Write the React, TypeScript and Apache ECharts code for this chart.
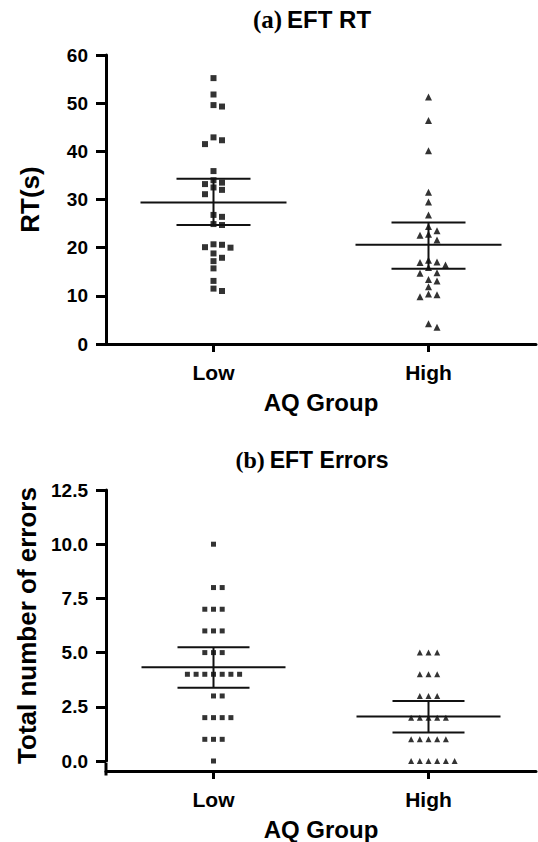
import React, { useEffect, useRef } from "react";
import * as echarts from "echarts";

// ---- data ----
const groups = ["Low", "High"];

const rtLow = [55.2, 51.8, 49.6, 49.3, 42.9, 42.3, 41.5, 35.9, 34.0, 33.5, 33.2, 32.5, 32.0, 31.1, 26.8, 26.4, 24.9, 24.7, 20.7, 20.6, 20.1, 20.0, 18.8, 17.9, 17.2, 15.7, 13.1, 11.5, 11.0];
const rtHigh = [51.3, 46.4, 40.1, 31.5, 29.5, 26.8, 24.4, 23.5, 22.8, 22.6, 21.6, 17.4, 17.0, 16.9, 16.4, 15.9, 14.8, 14.7, 13.4, 13.1, 11.9, 10.4, 10.2, 9.8, 4.2, 3.5];
const rtMean = [29.4, 20.6];
const rtLower = [24.7, 15.6];
const rtUpper = [34.3, 25.2];

const errLow = [10, 8, 8, 7, 7, 7, 6, 6, 6, 5, 5, 5, 4, 4, 4, 4, 4, 4, 4, 3, 3, 2, 2, 2, 2, 1, 1, 1, 0];
const errHigh = [5, 5, 5, 4, 4, 4, 3, 3, 3, 2, 2, 2, 2, 2, 1, 1, 1, 1, 1, 0, 0, 0, 0, 0, 0];
const errMean = [4.32, 2.05];
const errLower = [3.38, 1.32];
const errUpper = [5.25, 2.77];

// ---- layout helpers ----
const FONT = "'Liberation Sans', Arial, sans-serif";
const SERIF = "'Liberation Serif', 'Times New Roman', serif";

function swarm(values: number[], pxPerUnit: number, minDist: number): number[] {
  const placed: { col: number; y: number }[] = [];
  const order = [0, 1, -1, 2, -2, 3, -3, 4, -4, 5, -5];
  return values.map((v) => {
    const y = v * pxPerUnit;
    for (const c of order) {
      if (!placed.some((p) => p.col === c && Math.abs(p.y - y) < minDist)) {
        placed.push({ col: c, y });
        return c;
      }
    }
    return 0;
  });
}

function pointsData(values: number[], cat: number, pxPerUnit: number, spacing: number, minDist: number) {
  const cols = swarm(values, pxPerUnit, minDist);
  return values.map((v, i) => ({ value: [cat, v], symbolOffset: [cols[i] * spacing, 0] }));
}

const makeRender = (meanHalf: number, semHalf: number) => (params: any, api: any) => {
  const x = api.value(0);
  const c = api.coord([x, api.value(1)]);
  const lo = api.coord([x, api.value(2)]);
  const hi = api.coord([x, api.value(3)]);
  const st = { stroke: "#111", lineWidth: 2 };
  return {
    type: "group",
    children: [
      { type: "line", shape: { x1: c[0] - meanHalf, y1: c[1], x2: c[0] + meanHalf, y2: c[1] }, style: st },
      { type: "line", shape: { x1: lo[0] - semHalf, y1: lo[1], x2: lo[0] + semHalf, y2: lo[1] }, style: st },
      { type: "line", shape: { x1: hi[0] - semHalf, y1: hi[1], x2: hi[0] + semHalf, y2: hi[1] }, style: st },
      { type: "line", shape: { x1: c[0], y1: lo[1], x2: c[0], y2: hi[1] }, style: st },
    ],
  };
};

export default function App() {
  const ref = useRef<HTMLDivElement>(null);
  useEffect(() => {
    if (!ref.current) return;
    const chart = echarts.init(ref.current, null, { renderer: "svg" });

    const g0 = { left: 106, top: 55, width: 430, height: 289 };
    const g1 = { left: 106, top: 490, width: 430, height: 274 };
    const xOffset1 = 10;
    const e0Min = 0, e0Max = 60;
    const e1Min = 0, e1Max = 12.5;
    const ppu0 = g0.height / (e0Max - e0Min);
    const ppu1 = g1.height / (e1Max - e1Min);

    const axisLine = { show: true, lineStyle: { color: "#000", width: 3 } };
    const tickStyle = { color: "#000", width: 3 };

    const xAxisCommon = (gridIndex: number, offset: number) => ({
      type: "category",
      gridIndex,
      offset,
      data: groups,
      boundaryGap: true,
      axisLine: { ...axisLine, onZero: false },
      axisTick: { show: true, alignWithLabel: true, length: 8, lineStyle: tickStyle },
      axisLabel: { color: "#000", fontFamily: FONT, fontWeight: "bold", fontSize: 21, margin: 18 },
      name: "AQ Group",
      nameLocation: "middle",
      nameGap: 46,
      nameTextStyle: { color: "#000", fontFamily: FONT, fontWeight: "bold", fontSize: 24 },
      splitLine: { show: false },
    });

    const titleStyle = (a: number, b: number) => ({
      rich: {
        a: { fontFamily: SERIF, fontWeight: "bold", fontSize: a, color: "#000" },
        b: { fontFamily: FONT, fontWeight: "bold", fontSize: b, color: "#000" },
      },
    });

    const option: any = {
      animation: false,
      backgroundColor: "#fff",
      title: [
        { text: "{a|(a)} {b|EFT RT}", left: 307, top: 2, textAlign: "center", textStyle: titleStyle(25, 24) },
        { text: "{a|(b)} {b|EFT Errors}", left: 307, top: 443, textAlign: "center", textStyle: titleStyle(24, 23) },
      ],
      grid: [
        { ...g0, containLabel: false },
        { ...g1, containLabel: false },
      ],
      xAxis: [xAxisCommon(0, 0), xAxisCommon(1, xOffset1)],
      yAxis: [
        {
          type: "value",
          gridIndex: 0,
          min: e0Min,
          max: e0Max,
          interval: 10,
          axisLine,
          axisTick: { show: true, length: 10, lineStyle: tickStyle },
          axisLabel: { color: "#000", fontFamily: FONT, fontWeight: "bold", fontSize: 19, margin: 18 },
          splitLine: { show: false },
          name: "RT(s)",
          nameLocation: "middle",
          nameRotate: 90,
          nameGap: 63,
          nameTextStyle: { color: "#000", fontFamily: FONT, fontWeight: "bold", fontSize: 26 },
        },
        {
          type: "value",
          gridIndex: 1,
          min: e1Min,
          max: e1Max,
          interval: 2.5,
          axisLine,
          axisTick: { show: true, length: 10, lineStyle: tickStyle },
          axisLabel: {
            color: "#000",
            fontFamily: FONT,
            fontWeight: "bold",
            fontSize: 19,
            margin: 18,
            formatter: (v: number) => v.toFixed(1),
          },
          splitLine: { show: false },
          name: "Total number of errors",
          nameLocation: "middle",
          nameRotate: 90,
          nameGap: 65,
          nameTextStyle: { color: "#000", fontFamily: FONT, fontWeight: "bold", fontSize: 26 },
        },
      ],
      graphic: [
        {
          // extend the lower y-axis line down to the offset x-axis
          type: "line",
          shape: {
            x1: g1.left,
            y1: g1.top + g1.height - 1,
            x2: g1.left,
            y2: g1.top + g1.height + xOffset1 + 1.5,
          },
          style: { stroke: "#000", lineWidth: 3 },
        },
      ],
      series: [
        {
          type: "scatter",
          xAxisIndex: 0,
          yAxisIndex: 0,
          symbol: "rect",
          symbolSize: 6,
          itemStyle: { color: "#000" },
          data: pointsData(rtLow, 0, ppu0, 8.5, 7),
        },
        {
          type: "scatter",
          xAxisIndex: 0,
          yAxisIndex: 0,
          symbol: "triangle",
          symbolSize: 7,
          itemStyle: { color: "#000" },
          data: pointsData(rtHigh, 1, ppu0, 8.5, 7),
        },
        {
          type: "custom",
          xAxisIndex: 0,
          yAxisIndex: 0,
          renderItem: makeRender(73, 37),
          data: groups.map((_, i) => [i, rtMean[i], rtLower[i], rtUpper[i]]),
          z: 3,
        },
        {
          type: "scatter",
          xAxisIndex: 1,
          yAxisIndex: 1,
          symbol: "rect",
          symbolSize: 5,
          itemStyle: { color: "#000" },
          data: pointsData(errLow, 0, ppu1, 8.7, 7),
        },
        {
          type: "scatter",
          xAxisIndex: 1,
          yAxisIndex: 1,
          symbol: "triangle",
          symbolSize: 6,
          itemStyle: { color: "#000" },
          data: pointsData(errHigh, 1, ppu1, 8.7, 7),
        },
        {
          type: "custom",
          xAxisIndex: 1,
          yAxisIndex: 1,
          renderItem: makeRender(72, 36),
          data: groups.map((_, i) => [i, errMean[i], errLower[i], errUpper[i]]),
          z: 3,
        },
      ],
    };
    chart.setOption(option);
    return () => chart.dispose();
  }, []);

  return (
    <div
      ref={ref}
      style={{ position: "fixed", left: 0, top: 0, width: 538, height: 842, background: "#fff" }}
    />
  );
}
